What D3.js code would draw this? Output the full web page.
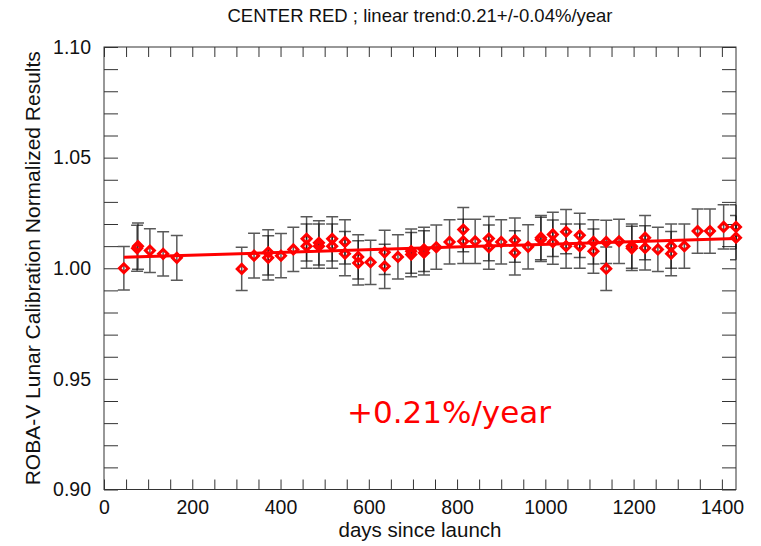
<!DOCTYPE html>
<html>
<head>
<meta charset="utf-8">
<script src="https://cdn.jsdelivr.net/npm/d3@7"></script>
<style>
  body { margin: 0; background: #fff; }
  text { font-family: "Liberation Sans", Arial, sans-serif; }
</style>
</head>
<body>
<div id="chart"></div>
<script>
// lunar calibration results
const days = [45, 75, 77, 104, 134, 165, 312, 340, 372, 372, 401, 429, 459, 459, 487, 487,
  517, 517, 546, 546, 576, 576, 604, 636, 636, 666, 696, 696, 725, 725, 753, 783, 814, 814,
  841, 872, 872, 900, 931, 931, 961, 990, 990, 1017, 1017, 1047, 1047, 1078, 1078, 1109, 1109,
  1138, 1138, 1167, 1196, 1196, 1226, 1226, 1255, 1285, 1285, 1315, 1345, 1373, 1404, 1432, 1432];
const values = [1.0000, 1.0090, 1.0100, 1.0080, 1.0065, 1.0047, 0.9997, 1.0057, 1.0072, 1.0047,
  1.0057, 1.0085, 1.0133, 1.0100, 1.0115, 1.0100, 1.0133, 1.0100, 1.0119, 1.0066, 1.0051, 1.0024,
  1.0027, 1.0072, 1.0009, 1.0051, 1.0077, 1.0062, 1.0085, 1.0070, 1.0095, 1.0119, 1.0175, 1.0122,
  1.0122, 1.0134, 1.0095, 1.0119, 1.0127, 1.0070, 1.0097, 1.0138, 1.0130, 1.0153, 1.0118, 1.0165,
  1.0100, 1.0149, 1.0100, 1.0119, 1.0077, 1.0119, 0.9998, 1.0122, 1.0100, 1.0090, 1.0138, 1.0092,
  1.0085, 1.0100, 1.0066, 1.0100, 1.0168, 1.0168, 1.0187, 1.0187, 1.0138];
const errors = [0.0098, 0.0104, 0.0104, 0.0099, 0.0100, 0.0101, 0.0098, 0.0101, 0.0102, 0.0100,
  0.0100, 0.0100, 0.0100, 0.0100, 0.0100, 0.0100, 0.0100, 0.0100, 0.0100, 0.0100, 0.0100, 0.0100,
  0.0100, 0.0100, 0.0100, 0.0100, 0.0100, 0.0100, 0.0100, 0.0100, 0.0100, 0.0100, 0.0100, 0.0100,
  0.0100, 0.0100, 0.0100, 0.0100, 0.0100, 0.0100, 0.0100, 0.0100, 0.0100, 0.0100, 0.0100, 0.0100,
  0.0100, 0.0100, 0.0100, 0.0100, 0.0100, 0.0098, 0.0098, 0.0100, 0.0100, 0.0100, 0.0100, 0.0100,
  0.0100, 0.0100, 0.0100, 0.0100, 0.0100, 0.0100, 0.0100, 0.0100, 0.0100];

// linear fit end points
const trendDays = [45, 1432];
const trendValues = [1.0050, 1.0135];

const xTicks = [0, 200, 400, 600, 800, 1000, 1200, 1400];
const xMinorTicks = [50, 100, 150, 250, 300, 350, 450, 500, 550, 650, 700, 750, 850, 900, 950,
  1050, 1100, 1150, 1250, 1300, 1350];
const yTicks = [0.90, 0.95, 1.00, 1.05, 1.10];
const yMinorTicks = [0.91, 0.92, 0.93, 0.94, 0.96, 0.97, 0.98, 0.99, 1.01, 1.02, 1.03, 1.04,
  1.06, 1.07, 1.08, 1.09];

const title = "CENTER RED ; linear trend:0.21+/-0.04%/year";
const xLabel = "days since launch";
const yLabel = "ROBA-V Lunar Calibration Normalized Results";
const note = "+0.21%/year";

const width = 761, height = 546;
const plotLeft = 104, plotRight = 736, plotTop = 47, plotBottom = 489.5;

const svg = d3.select("#chart").append("svg")
  .attr("width", width)
  .attr("height", height);

const x = d3.scaleLinear().domain([0, 1432]).range([plotLeft, plotRight]);
const y = d3.scaleLinear().domain([0.90, 1.10]).range([plotBottom, plotTop]);

const axisColor = "#333";

function styleAxis(g) {
  g.select(".domain").remove();
  g.selectAll(".tick line").attr("stroke", axisColor);
  g.selectAll("text").attr("fill", "#111").style("font-size", "19.5px")
    .style("font-family", "Liberation Sans, Arial, sans-serif");
}

// bottom / top axes, ticks inward
svg.append("g").attr("transform", `translate(0,${plotBottom})`)
  .call(d3.axisBottom(x).tickValues(xTicks).tickSizeInner(-10).tickSizeOuter(0).tickPadding(11)
    .tickFormat(d3.format("d")))
  .call(styleAxis);
svg.append("g").attr("transform", `translate(0,${plotBottom})`)
  .call(d3.axisBottom(x).tickValues(xMinorTicks).tickSizeInner(-10).tickSizeOuter(0).tickFormat(""))
  .call(styleAxis);
svg.append("g").attr("transform", `translate(0,${plotTop})`)
  .call(d3.axisTop(x).tickValues(xTicks.concat(xMinorTicks)).tickSizeInner(-10).tickSizeOuter(0).tickFormat(""))
  .call(styleAxis);

// left / right axes
svg.append("g").attr("transform", `translate(${plotLeft},0)`)
  .call(d3.axisLeft(y).tickValues(yTicks).tickSizeInner(-14).tickSizeOuter(0).tickPadding(13)
    .tickFormat(d3.format(".2f")))
  .call(styleAxis);
svg.append("g").attr("transform", `translate(${plotLeft},0)`)
  .call(d3.axisLeft(y).tickValues(yMinorTicks).tickSizeInner(-14).tickSizeOuter(0).tickFormat(""))
  .call(styleAxis);
svg.append("g").attr("transform", `translate(${plotRight},0)`)
  .call(d3.axisRight(y).tickValues(yTicks.concat(yMinorTicks)).tickSizeInner(-14).tickSizeOuter(0).tickFormat(""))
  .call(styleAxis);

// frame
svg.append("rect")
  .attr("x", plotLeft).attr("y", plotTop)
  .attr("width", plotRight - plotLeft).attr("height", plotBottom - plotTop)
  .attr("fill", "none").attr("stroke", axisColor).attr("stroke-width", 1);

const points = days.map((d, i) => ({day: d, value: values[i], err: errors[i]}));

// error bars
const bars = svg.append("g")
  .attr("stroke", "#000").attr("stroke-opacity", 0.65).attr("stroke-width", 1.5);
bars.selectAll("path")
  .data(points)
  .enter().append("path")
  .attr("fill", "none")
  .attr("d", d => {
    const cx = x(d.day), y1 = y(d.value + d.err), y2 = y(d.value - d.err), w = 6;
    const xr = Math.min(cx + w, plotRight);
    return `M${cx - w},${y1}H${xr}M${cx},${y1}V${y2}M${cx - w},${y2}H${xr}`;
  });

// trend line
svg.append("line")
  .attr("x1", x(trendDays[0])).attr("y1", y(trendValues[0]))
  .attr("x2", x(trendDays[1])).attr("y2", y(trendValues[1]))
  .attr("stroke", "#ff0000").attr("stroke-width", 3);

// diamonds
const diamond = d3.symbol().type(d3.symbolSquare).size(40);
svg.append("g").selectAll("path")
  .data(points)
  .enter().append("path")
  .attr("d", diamond)
  .attr("transform", d => `translate(${x(d.day)},${y(d.value)}) rotate(45)`)
  .attr("fill", "none")
  .attr("stroke", "#ff0000")
  .attr("stroke-width", 3);

// texts
svg.append("text")
  .attr("x", (plotLeft + plotRight) / 2).attr("y", 22)
  .attr("text-anchor", "middle")
  .style("font-size", "18.5px").attr("fill", "#111")
  .text(title);

svg.append("text")
  .attr("x", (plotLeft + plotRight) / 2).attr("y", 537)
  .attr("text-anchor", "middle")
  .style("font-size", "20.5px").attr("fill", "#111")
  .text(xLabel);

svg.append("text")
  .attr("transform", `translate(40,${(plotTop + plotBottom) / 2}) rotate(-90)`)
  .attr("text-anchor", "middle")
  .style("font-size", "21px").attr("fill", "#111")
  .text(yLabel);

svg.append("text")
  .attr("x", 449).attr("y", 423)
  .attr("text-anchor", "middle")
  .style("font-family", "DejaVu Sans, Verdana, sans-serif")
  .style("font-size", "31px").attr("fill", "#ff0000")
  .text(note);
</script>
</body>
</html>
